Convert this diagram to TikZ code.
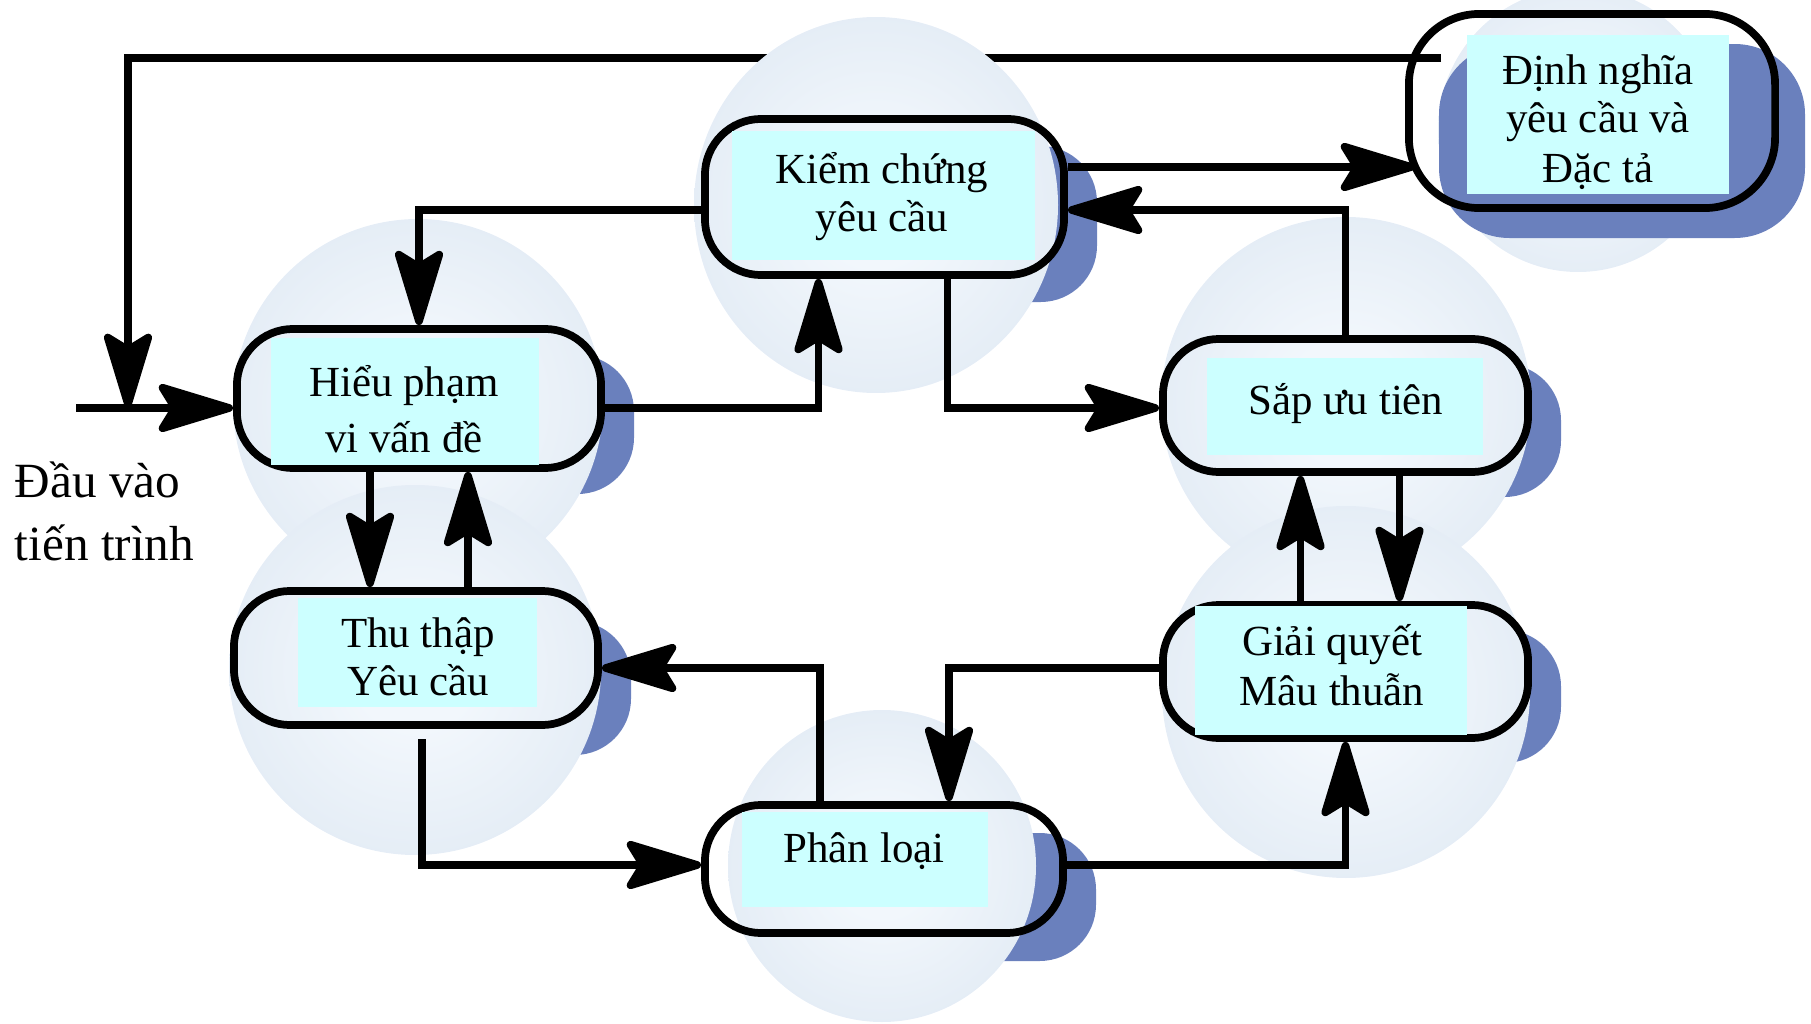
\documentclass[tikz,border=0pt]{standalone}
\usepackage{fontspec}
\setmainfont{Liberation Serif}
\usetikzlibrary{arrows.meta,calc}

\definecolor{sphin}{RGB}{242,247,252}
\definecolor{sphout}{RGB}{210,223,237}
\definecolor{shadowblue}{RGB}{106,128,189}
\definecolor{labelcyan}{RGB}{204,255,255}
\pgfdeclareradialshading{sphere}{\pgfpointorigin}{color(0bp)=(sphin); color(8bp)=(sphin); color(50bp)=(sphout)}

\begin{document}
\begin{tikzpicture}[x=0.01cm,y=-0.01cm,line width=2.2pt,
  dropshade/.style={fill=shadowblue,draw=none,rounded corners=16pt},
  pill/.style={draw=black,line width=2.2pt,rounded corners=16pt,inner sep=0pt},
  cyanbox/.style={fill=labelcyan,draw=none},
  lbl/.style={font=\fontsize{12.2}{14}\selectfont,anchor=base,inner sep=0pt},
  side/.style={font=\fontsize{14}{17}\selectfont,anchor=base west,inner sep=0pt},
  arr/.style={-{Stealth[length=25pt,width=15pt,inset=4.5pt,round]},line width=2.2pt}
]
\useasboundingbox (0,0) rectangle (1811,1024);

% --- output stage: definition and specification ---
\shade[shading=sphere] (1578,130) ellipse [x radius=140, y radius=142];
\fill[dropshade,rounded corners=20pt] (1439,44) rectangle (1805,238);
\node[pill,rounded corners=20pt,minimum width=3.66cm,minimum height=1.94cm] (dinh) at (1592,111) {};
\fill[cyanbox] (1467,35) rectangle (1729,194);
\node[lbl] (dinhA) at (1598,84) {Định nghĩa};
\node[lbl] (dinhB) at (1598,133) {yêu cầu và};
\node[lbl] (dinhC) at (1598,182) {Đặc tả};

% long feedback path back to the process input
\coordinate (in) at (76,408);
\coordinate (fbstart) at (1441,58);
\coordinate (fbcorner) at (128,58);
\draw[arr] (fbstart) -- (fbcorner) -- (fbcorner |- in);

% --- understanding the problem scope ---
\fill[dropshade] (270,355) rectangle (634,494);
\shade[shading=sphere] (418,404) ellipse [x radius=185, y radius=185];
\node[pill,minimum width=3.64cm,minimum height=1.39cm] (hieu) at (419,398.5) {};
\fill[cyanbox] (271,338) rectangle (539,465);
\node[lbl] (hieuA) at (404,396) {Hiểu phạm};
\node[lbl] (hieuB) at (404,452) {vi vấn đề};

% --- elicitation ---
\fill[dropshade] (267,621) rectangle (631,755);
\shade[shading=sphere] (415,670) ellipse [x radius=186, y radius=185];
\node[pill,minimum width=3.64cm,minimum height=1.34cm] (thu) at (416,658) {};
\fill[cyanbox] (298,598) rectangle (537,707);
\node[lbl] (thuA) at (418,647) {Thu thập};
\node[lbl] (thuB) at (418,695) {Yêu cầu};

% --- validation ---
\fill[dropshade] (738,146) rectangle (1097,302);
\shade[shading=sphere] (876,205) ellipse [x radius=182, y radius=188];
\node[pill,minimum width=3.59cm,minimum height=1.56cm] (kiem) at (884.5,197) {};
\fill[cyanbox] (732,131) rectangle (1035,260);
\node[lbl] (kiemA) at (882,183) {Kiểm chứng};
\node[lbl] (kiemB) at (882,231) {yêu cầu};

% --- prioritisation ---
\fill[dropshade] (1196,364) rectangle (1561,497);
\shade[shading=sphere] (1346,402) ellipse [x radius=185, y radius=185];
\node[pill,minimum width=3.65cm,minimum height=1.33cm] (sap) at (1345.5,405.5) {};
\fill[cyanbox] (1207,358) rectangle (1483,455);
\node[lbl] (sapA) at (1346,414) {Sắp ưu tiên};

% --- conflict resolution ---
\fill[dropshade] (1196,630) rectangle (1561,763);
\shade[shading=sphere] (1346,692) ellipse [x radius=184, y radius=186];
\node[pill,minimum width=3.65cm,minimum height=1.33cm] (giai) at (1345.5,671.5) {};
\fill[cyanbox] (1195,606) rectangle (1467,735);
\node[lbl] (giaiA) at (1332,655) {Giải quyết};
\node[lbl] (giaiB) at (1332,705) {Mâu thuẫn};

% --- classification ---
\fill[dropshade] (738,833) rectangle (1096,961);
\shade[shading=sphere] (882,866) ellipse [x radius=154, y radius=156];
\node[pill,minimum width=3.58cm,minimum height=1.28cm] (phan) at (884,869) {};
\fill[cyanbox] (742,812) rectangle (988,907);
\node[lbl] (phanA) at (864,862) {Phân loại};

% process input label
\node[side] (inA) at (11,497) {Đầu vào};
\node[side] (inB) at (11,560) {tiến trình};

% --- connectors ---
\draw[arr] (in) -- (in -| hieu.west);
\draw[arr] (kiem.east |- 0,167) -- ($(dinh.west |- 0,167)+(10,0)$);
\draw[arr] (sap.north) -- (sap.north |- 0,210) -- (kiem.east |- 0,210);
\draw[arr] (kiem.west |- 0,210) -| (hieu.north);
\draw[arr] (hieu.east |- in) -| ($(kiem.south)+(-66,0)$);
\draw[arr] ($(kiem.south)+(63,0)$) |- (sap.west |- in);

\coordinate (ht) at ($(hieu.south)+(-49,0)$);
\coordinate (th) at ($(thu.north)+(52,0)$);
\draw[arr] (ht) -- (ht |- thu.north);
\draw[arr] (th) -- (th |- hieu.south);

\coordinate (tp) at (422,739);
\draw[arr] (tp) |- (phan.west |- 0,865);
\coordinate (pt) at ($(phan.north)+(-64,0)$);
\draw[arr] (pt) |- (thu.east |- 0,668);
\coordinate (gp) at ($(phan.north)+(65,0)$);
\draw[arr] (giai.west |- 0,668) -| (gp);
\draw[arr] (phan.east |- 0,865) -| (giai.south);

\coordinate (gs) at ($(giai.north)+(-45,0)$);
\coordinate (sg) at ($(sap.south)+(54,0)$);
\draw[arr] (gs) -- (gs |- sap.south);
\draw[arr] (sg) -- (sg |- giai.north);
\end{tikzpicture}
\end{document}
